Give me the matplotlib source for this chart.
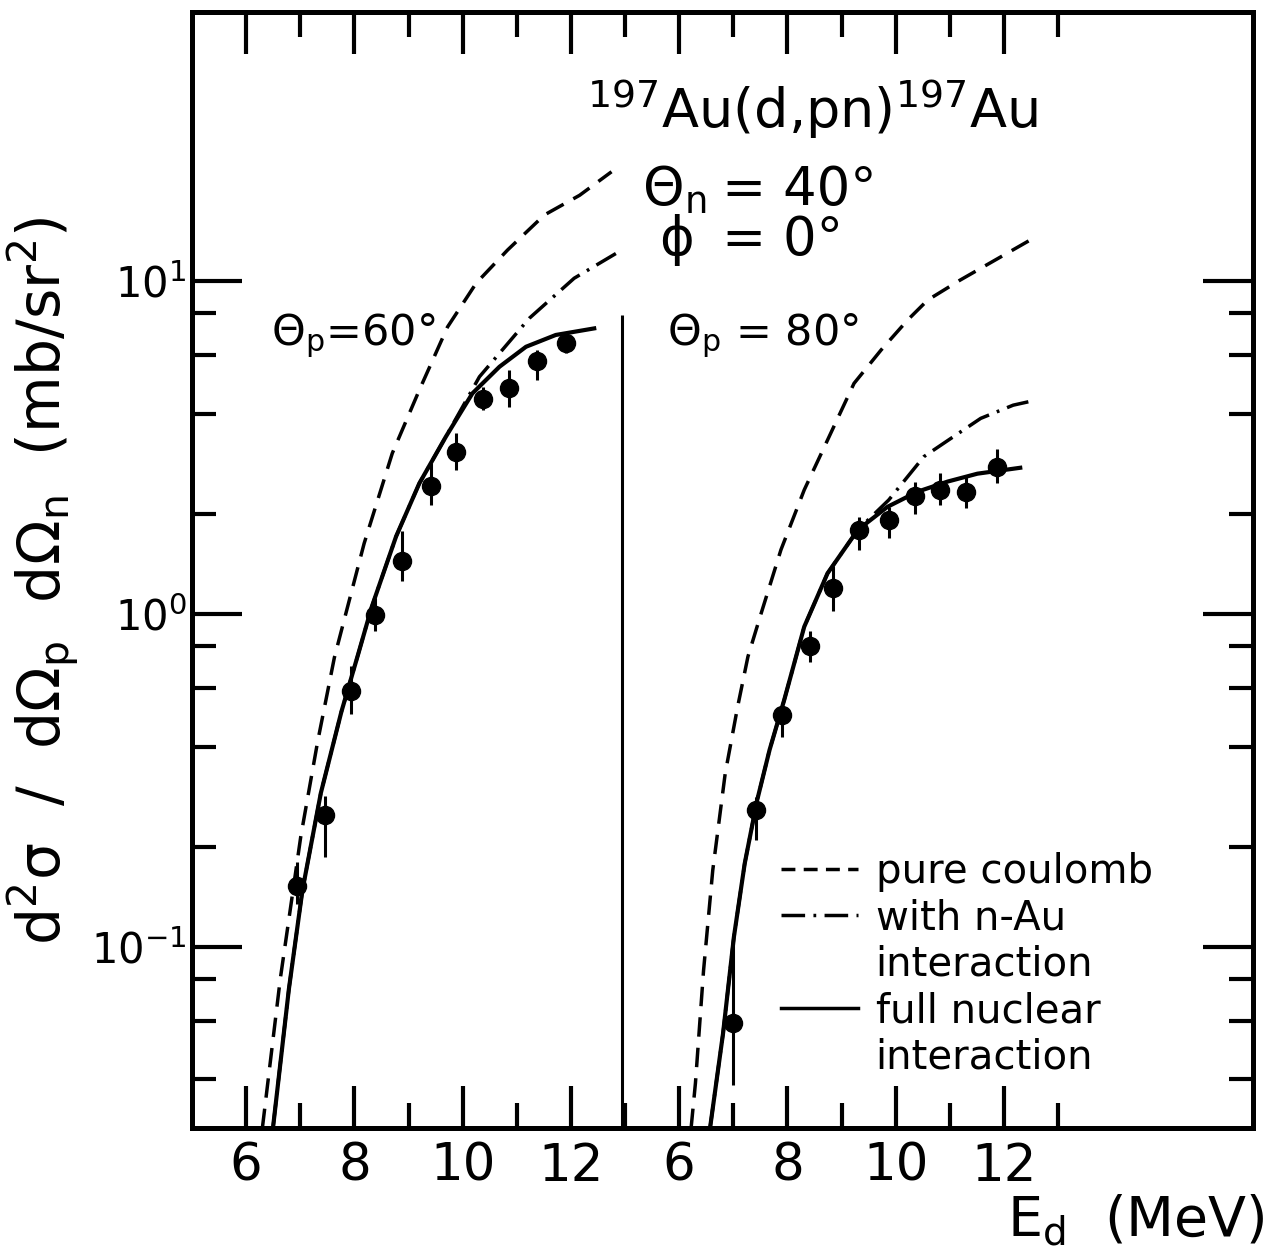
import matplotlib as mpl
mpl.use('Agg')
import matplotlib.pyplot as plt
from matplotlib.lines import Line2D
from matplotlib.ticker import FixedLocator, FixedFormatter, NullFormatter
import numpy as np

plt.rcParams['font.family'] = ['DejaVu Sans']
plt.rcParams['mathtext.fontset'] = 'dejavusans'
plt.rcParams['mathtext.default'] = 'regular'
plt.rcParams['lines.scale_dashes'] = False

# right panel (theta_p = 80) is drawn on the same axis, shifted by 8 MeV
shift = 8.0

# measured points, theta_p = 60 deg
e60 = [6.94, 7.46, 7.94, 8.38, 8.88, 9.41, 9.88, 10.38, 10.86, 11.38, 11.91]
v60 = [0.153, 0.250, 0.589, 0.99, 1.445, 2.42, 3.06, 4.42, 4.79, 5.77, 6.52]
lo60 = [0.135, 0.186, 0.50, 0.89, 1.26, 2.12, 2.70, 4.10, 4.20, 5.05, 6.10]
hi60 = [0.180, 0.284, 0.70, 1.12, 1.77, 2.84, 3.50, 4.80, 5.40, 6.20, 6.90]

# measured points, theta_p = 80 deg
e80 = [7.00, 7.42, 7.90, 8.42, 8.85, 9.32, 9.87, 10.35, 10.81, 11.30, 11.87]
v80 = [0.059, 0.258, 0.497, 0.803, 1.20, 1.79, 1.92, 2.26, 2.36, 2.33, 2.77]
lo80 = [0.0386, 0.209, 0.428, 0.72, 1.02, 1.56, 1.69, 2.00, 2.13, 2.08, 2.47]
hi80 = [0.105, 0.283, 0.539, 0.89, 1.39, 1.96, 2.10, 2.49, 2.65, 2.58, 3.14]

# calculations, theta_p = 60
coul60_e = [6.30, 6.63, 7.01, 7.32, 7.63, 7.88, 8.18, 8.70, 9.20, 9.72, 10.25, 10.83, 11.51, 12.16, 12.75]
coul60_v = [0.0286, 0.080, 0.215, 0.413, 0.74, 1.06, 1.63, 3.04, 4.71, 7.28, 9.86, 12.4, 15.8, 18.1, 21.3]
nau60_e = [6.50, 6.79, 7.04, 7.38, 7.76, 8.07, 8.32, 8.77, 9.20, 9.69, 10.31, 11.23, 12.06, 12.83]
nau60_v = [0.029, 0.0748, 0.148, 0.29, 0.509, 0.758, 1.05, 1.71, 2.47, 3.41, 5.16, 7.73, 10.2, 12.1]
full60_e = [6.50, 6.79, 7.04, 7.38, 7.76, 8.07, 8.32, 8.77, 9.20, 9.69, 10.18, 10.68, 11.17, 11.72, 12.43]
full60_v = [0.029, 0.0748, 0.148, 0.29, 0.509, 0.758, 1.05, 1.71, 2.47, 3.41, 4.60, 5.53, 6.35, 6.89, 7.21]

# calculations, theta_p = 80
coul80_e = [6.22, 6.30, 6.45, 6.62, 6.85, 7.08, 7.27, 7.51, 7.88, 8.31, 8.74, 9.23, 9.73, 10.22, 10.59, 11.19, 12.49]
coul80_v = [0.0286, 0.039, 0.085, 0.170, 0.332, 0.527, 0.745, 1.0, 1.56, 2.36, 3.33, 4.93, 6.21, 7.64, 8.77, 10.07, 13.3]
nau80_e = [6.57, 6.81, 7.01, 7.21, 7.44, 7.67, 7.94, 8.31, 8.74, 9.30, 9.87, 10.52, 11.02, 11.57, 12.17, 12.45]
nau80_v = [0.0286, 0.055, 0.107, 0.178, 0.276, 0.391, 0.552, 0.916, 1.325, 1.79, 2.20, 2.97, 3.37, 3.87, 4.24, 4.34]
full80_e = [6.57, 6.81, 7.01, 7.21, 7.44, 7.67, 7.94, 8.31, 8.74, 9.30, 9.85, 10.40, 10.96, 11.51, 12.30]
full80_v = [0.0286, 0.055, 0.107, 0.178, 0.276, 0.391, 0.552, 0.916, 1.325, 1.79, 2.10, 2.33, 2.50, 2.64, 2.75]

xtick_major = [6, 8, 10, 12, 14, 16, 18, 20]
xtick_labels = ['6', '8', '10', '12', '6', '8', '10', '12']
xtick_minor = [7, 9, 11, 13, 15, 17, 19, 21]
ytick_major = [0.1, 1, 10]
ytick_labels = [r'$10^{-1}$', r'$10^{0}$', r'$10^{1}$']
ytick_minor = [0.04, 0.06, 0.08, 0.2, 0.4, 0.6, 0.8, 2, 4, 6, 8]

dashed = (0, (14, 8))
dashdot = (0, (17, 6, 2, 6))

fig = plt.figure(figsize=(12.71, 12.52), dpi=100)
ax = fig.add_axes([192/1271, 1-1128/1252, 1061/1271, 1116/1252])
ax.set_yscale('log')
ax.set_xlim(5, 24.6)
ax.set_ylim(0.0286, 64.3)

for e_c, v_c, e_n, v_n, e_f, v_f, off in [
        (coul60_e, coul60_v, nau60_e, nau60_v, full60_e, full60_v, 0.0),
        (coul80_e, coul80_v, nau80_e, nau80_v, full80_e, full80_v, shift)]:
    ax.plot(np.array(e_c) + off, v_c, color='k', lw=2.5, ls=dashed)
    ax.plot(np.array(e_n) + off, v_n, color='k', lw=2.5, ls=dashdot)
    ax.plot(np.array(e_f) + off, v_f, color='k', lw=3.0)

for e, v, lo, hi, off in [(e60, v60, lo60, hi60, 0.0), (e80, v80, lo80, hi80, shift)]:
    v = np.array(v)
    yerr = [v - np.array(lo), np.array(hi) - v]
    ax.errorbar(np.array(e) + off, v, yerr=yerr, fmt='o', color='k', ms=13,
                elinewidth=2.2, capsize=0)

# divider between the two panels
ax.vlines(12.95, 0.0286, 7.9, color='k', lw=2.2)

ax.xaxis.set_major_locator(FixedLocator(xtick_major))
ax.xaxis.set_major_formatter(FixedFormatter(xtick_labels))
ax.xaxis.set_minor_locator(FixedLocator(xtick_minor))
ax.xaxis.set_minor_formatter(NullFormatter())
ax.yaxis.set_major_locator(FixedLocator(ytick_major))
ax.yaxis.set_major_formatter(FixedFormatter(ytick_labels))
ax.yaxis.set_minor_locator(FixedLocator(ytick_minor))
ax.yaxis.set_minor_formatter(NullFormatter())

ax.tick_params(axis='x', which='major', direction='in', length=30, width=3,
               top=True, bottom=True, labelsize=37, pad=10)
ax.tick_params(axis='x', which='minor', direction='in', length=18, width=3,
               top=True, bottom=True)
ax.tick_params(axis='y', which='major', direction='in', length=36, width=3,
               left=True, right=True, labelsize=30, pad=4)
ax.tick_params(axis='y', which='minor', direction='in', length=17, width=3,
               left=True, right=True)
for s in ax.spines.values():
    s.set_linewidth(3.6)

ax.set_ylabel(r'd$^2\sigma$  /  d$\Omega_p$  d$\Omega_n$  (mb/sr$^2$)', fontsize=42)
ax.yaxis.set_label_coords(-0.104, 0.490)
ax.set_xlabel(r'E$_d$  (MeV)', fontsize=40, loc='right')
ax.xaxis.set_label_coords(1.011, -0.058)

ax.text(12.30, 28.8, r'$^{197}$Au(d,pn)$^{197}$Au', fontsize=39, ha='left', va='baseline')
ax.text(13.32, 16.9, r'$\Theta_n$', fontsize=38, ha='left', va='baseline')
ax.text(14.80, 16.9, '= 40°', fontsize=38, ha='left', va='baseline')
ax.text(13.63, 12.0, r'$\phi$', fontsize=38, ha='left', va='baseline')
ax.text(14.80, 12.0, '= 0°', fontsize=38, ha='left', va='baseline')
ax.text(6.46, 6.43, r'$\Theta_p$=60°', fontsize=31, ha='left', va='baseline')
ax.text(13.78, 6.43, r'$\Theta_p$ = 80°', fontsize=31, ha='left', va='baseline')

handles = [Line2D([], [], color='k', lw=2.5, ls=(0, (10, 6))),
           Line2D([], [], color='k', lw=2.5, ls=dashdot),
           Line2D([], [], ls='none'),
           Line2D([], [], color='k', lw=2.5),
           Line2D([], [], ls='none')]
labels = ['pure coulomb', 'with n-Au', 'interaction', 'full nuclear', 'interaction']
ax.legend(handles, labels, loc='upper left', bbox_to_anchor=(781/1271, 1-852/1252),
          bbox_transform=fig.transFigure, frameon=False, fontsize=29,
          handlelength=1.9, handletextpad=0.45, labelspacing=0.16,
          borderpad=0, borderaxespad=0)

fig.savefig('out.png', dpi=100)
